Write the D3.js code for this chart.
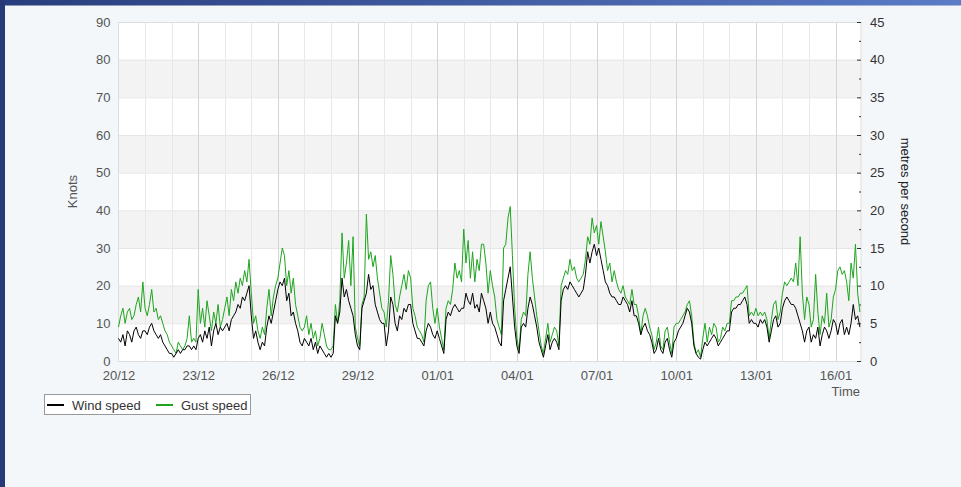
<!DOCTYPE html>
<html>
<head>
<meta charset="utf-8">
<script src="https://cdn.jsdelivr.net/npm/d3@7"></script>
<style>
  body { margin: 0; background: #f3f7fa; }
  svg { display: block; font-family: "Liberation Sans", Arial, sans-serif; }
</style>
</head>
<body>
<svg></svg>
<script>
// readings every 2 hours, starting 20/12 00:00
let startTime = new Date(2023, 11, 20, 0, 0);
let stepHours = 2;

let windSpeed = [
  6, 5, 7, 4, 8, 7, 5, 8, 9, 7, 6, 8,
  8, 7, 9, 10, 8, 7, 6, 7, 5, 4, 3, 2,
  2, 1, 2, 3, 2, 3, 3, 4, 4, 3, 4, 3,
  6, 7, 5, 8, 6, 9, 4, 8, 10, 7, 9, 8,
  9, 10, 8, 11, 12, 13, 15, 14, 17, 16, 18, 20,
  12, 6, 8, 5, 3, 5, 4, 9, 12, 10, 13, 16,
  19, 21, 20, 22, 16, 18, 12, 13, 10, 8, 5, 4,
  6, 5, 4, 6, 3, 5, 2, 4, 3, 2, 1, 2,
  1, 2, 12, 10, 13, 22, 17, 19, 16, 14, 12, 7,
  4, 3, 14, 16, 18, 23, 19, 20, 15, 13, 11, 10,
  10, 4, 8, 17, 15, 10, 8, 12, 11, 14, 13, 15,
  15, 10, 8, 6, 6, 5, 4, 8, 10, 9, 7, 6,
  8, 6, 4, 2, 11, 13, 12, 14, 15, 14, 13, 14,
  14, 18, 16, 15, 18, 14, 15, 13, 18, 16, 14, 10,
  13, 10, 9, 7, 5, 4, 16, 19, 22, 25, 17, 9,
  4, 2, 9, 10, 9, 14, 17, 15, 12, 9, 5, 3,
  1, 4, 7, 3, 5, 6, 5, 3, 16, 19, 20, 19,
  21, 20, 19, 18, 17, 18, 19, 23, 29, 26, 29, 31,
  28, 30, 27, 24, 21, 20, 18, 17, 17, 16, 15, 15,
  17, 16, 15, 13, 16, 12, 12, 10, 7, 9, 10, 8,
  7, 5, 2, 3, 6, 3, 2, 5, 6, 3, 1, 5,
  6, 8, 9, 10, 12, 14, 13, 10, 4, 2, 1, 0.5,
  3, 5, 4, 5, 6, 7, 6, 4, 5, 6, 7, 8,
  8, 13, 14, 14, 15, 15, 16, 17, 15, 10, 11, 10,
  10, 9, 11, 10, 11, 9, 5, 8, 11, 12, 9, 10,
  14, 16, 17, 16, 15, 15, 14, 12, 10, 8, 5, 8,
  9, 5, 7, 6, 9, 4, 7, 9, 8, 6, 8, 11,
  10, 7, 10, 11, 7, 9, 7, 10, 15, 11, 12, 9
];

let gustSpeed = [
  9, 12, 14, 10, 13, 14, 11, 12, 15, 17, 13, 21,
  14, 12, 15, 19, 13, 14, 11, 12, 10, 8, 7, 5,
  4, 3, 2, 5, 4, 3, 4, 6, 12, 5, 6, 5,
  19, 10, 14, 9, 16, 12, 8, 13, 10, 15, 9, 11,
  14, 17, 12, 19, 16, 21, 18, 22, 20, 24, 21, 27,
  18, 10, 12, 8, 6, 9, 7, 14, 19, 12, 17, 20,
  22, 26, 30, 28, 20, 24, 18, 22, 15, 12, 9, 8,
  9, 12, 7, 10, 6, 8, 4, 6, 10, 7, 4, 3,
  3, 4, 15, 10, 16, 34, 22, 26, 32, 20, 33, 9,
  6, 4, 15, 17, 39, 27, 29, 25, 28, 22, 18, 14,
  13, 9, 16, 28, 23, 15, 13, 17, 20, 23, 19, 24,
  22, 14, 12, 9, 8, 7, 5, 16, 20, 21, 14, 10,
  14, 9, 6, 3, 14, 16, 15, 19, 26, 22, 24, 21,
  35, 26, 32, 22, 29, 21, 27, 24, 31, 31, 26, 18,
  24, 20, 17, 11, 9, 7, 30, 31, 38, 41, 28, 14,
  6, 3, 11, 13, 12, 23, 29, 22, 17, 12, 8, 4,
  2, 6, 10, 5, 7, 9, 8, 4, 20, 22, 24, 23,
  27, 24, 25, 22, 21, 22, 23, 27, 33, 31, 38, 34,
  36, 31, 37, 33, 29, 24, 26, 21, 24, 21, 19, 18,
  20, 17, 16, 15, 19, 15, 15, 12, 7, 12, 14, 12,
  9, 7, 3, 5, 9, 4, 3, 8, 9, 5, 2, 9,
  10, 10, 11, 12, 13, 15, 16, 12, 5, 2, 3, 1,
  6, 10, 5, 9, 7, 10, 9, 5, 6, 9, 8, 10,
  10, 16, 16, 17, 17, 18, 18, 19, 20, 12, 13, 12,
  14, 12, 13, 12, 13, 11, 6, 11, 15, 16, 11, 13,
  18, 21, 20, 21, 22, 21, 26, 20, 33, 18, 11, 17,
  15, 9, 11, 23, 13, 7, 12, 10, 18, 9, 11, 17,
  19, 24, 25, 23, 24, 21, 16, 26, 22, 31, 18, 13
];

let knotTicks = [0, 10, 20, 30, 40, 50, 60, 70, 80, 90];
let msTicks = [0, 5, 10, 15, 20, 25, 30, 35, 40, 45];
let seriesNames = ["Wind speed", "Gust speed"];
let seriesColors = ["#000000", "#1ea51e"];

//
let w = 961;
let h = 487;
let plotLeft = 118.5;
let plotRight = 861;
let plotTop = 22;
let plotBottom = 361;

let svg = d3.select("svg").attr("width", w).attr("height", h);

let times = windSpeed.map((v, i) => d3.timeHour.offset(startTime, i * stepHours));
let endTime = new Date(2024, 0, 16, 23, 0);

let xScale = d3.scaleTime().domain([startTime, endTime]).range([plotLeft, plotRight]);
let yScale = d3.scaleLinear().domain([0, 90]).range([plotBottom, plotTop]);
let yScaleMs = d3.scaleLinear().domain([0, 45]).range([plotBottom, plotTop]);

let drawFrame = () => {
  svg.append("rect").attr("width", w).attr("height", h).attr("fill", "#f3f7fa");
  let grad = svg.append("defs").append("linearGradient").attr("id", "topgrad");
  grad.append("stop").attr("offset", "0%").attr("stop-color", "#283d7d");
  grad.append("stop").attr("offset", "100%").attr("stop-color", "#5a7bc6");
  svg.append("rect").attr("x", 0).attr("y", 0).attr("width", w).attr("height", 5.5).attr("fill", "url(#topgrad)");
  svg.append("rect").attr("x", 0).attr("y", 0).attr("width", 5).attr("height", h).attr("fill", "#263a78");
};

let drawGrid = () => {
  svg.append("rect")
    .attr("x", plotLeft).attr("y", plotTop)
    .attr("width", plotRight - plotLeft).attr("height", plotBottom - plotTop)
    .attr("fill", "#ffffff");
  // alternate bands
  let bands = knotTicks.slice(0, -1).filter((d, i) => i % 2 === 1);
  svg.append("g").selectAll("rect").data(bands).enter().append("rect")
    .attr("x", plotLeft).attr("width", plotRight - plotLeft)
    .attr("y", (d) => yScale(d + 10)).attr("height", (d) => yScale(d) - yScale(d + 10))
    .attr("fill", "#f3f3f3");
  svg.append("g").selectAll("line").data(knotTicks).enter().append("line")
    .attr("x1", plotLeft).attr("x2", plotRight)
    .attr("y1", (d) => yScale(d) + 0.5).attr("y2", (d) => yScale(d) + 0.5)
    .attr("stroke", "#e6e6e6");
  let days = d3.timeDay.range(d3.timeDay.offset(startTime, 1), endTime);
  svg.append("g").selectAll("line").data(days).enter().append("line")
    .attr("x1", (d) => Math.round(xScale(d)) + 0.5).attr("x2", (d) => Math.round(xScale(d)) + 0.5)
    .attr("y1", plotTop).attr("y2", plotBottom)
    .attr("stroke", (d, i) => ((i + 1) % 3 === 0 ? "#d4d4d4" : "#e8e8e8"));
  svg.append("rect")
    .attr("x", plotLeft).attr("y", plotTop + 0.5)
    .attr("width", plotRight - plotLeft).attr("height", plotBottom - plotTop)
    .attr("fill", "none").attr("stroke", "#dddddd");
};

let drawAxis = () => {
  let xAxis = d3.axisBottom(xScale)
    .tickValues(d3.timeDay.range(startTime, endTime, 3))
    .tickFormat(d3.timeFormat("%d/%m"))
    .tickSize(0).tickPadding(10);
  let yAxis = d3.axisLeft(yScale).tickValues(knotTicks).tickSize(0).tickPadding(7);
  let yAxisMs = d3.axisRight(yScaleMs).tickValues(msTicks).tickSize(-4).tickPadding(9);
  let yAxisMsMinor = d3.axisRight(yScaleMs)
    .tickValues(msTicks.slice(0, -1).map((d) => d + 2.5))
    .tickSize(-2).tickFormat("");

  let gx = svg.append("g").attr("transform", `translate(0, ${plotBottom})`).call(xAxis);
  let gy = svg.append("g").attr("transform", `translate(${plotLeft - 1}, 0)`).call(yAxis);
  let gr = svg.append("g").attr("transform", `translate(${plotRight}, 0)`).call(yAxisMs);
  let gm = svg.append("g").attr("transform", `translate(${plotRight}, 0)`).call(yAxisMsMinor);
  [gx, gy, gr, gm].forEach((g) => {
    g.select(".domain").remove();
    g.selectAll("text").attr("font-size", 13).attr("fill", "#555").attr("font-family", "Liberation Sans, Arial, sans-serif");
    g.selectAll("line").attr("stroke", "#333");
  });
  gr.selectAll("text").attr("fill", "#333");

  svg.append("text")
    .attr("transform", `translate(77, ${(plotTop + plotBottom) / 2}) rotate(-90)`)
    .attr("text-anchor", "middle").attr("font-size", 13).attr("fill", "#555")
    .text("Knots");
  svg.append("text")
    .attr("transform", `translate(901, ${(plotTop + plotBottom) / 2}) rotate(90)`)
    .attr("text-anchor", "middle").attr("font-size", 13).attr("fill", "#222")
    .text("metres per second");
  svg.append("text")
    .attr("x", plotRight - 1).attr("y", 396)
    .attr("text-anchor", "end").attr("font-size", 13).attr("fill", "#555")
    .text("Time");
};

let drawLines = () => {
  let line = d3.line().x((d, i) => xScale(times[i])).y((d) => yScale(d));
  svg.append("path").datum(gustSpeed)
    .attr("d", line).attr("fill", "none")
    .attr("stroke", seriesColors[1]).attr("stroke-width", 1).attr("stroke-linejoin", "round");
  svg.append("path").datum(windSpeed)
    .attr("d", line).attr("fill", "none")
    .attr("stroke", seriesColors[0]).attr("stroke-width", 1).attr("stroke-linejoin", "round");
};

let drawLegend = () => {
  let lg = svg.append("g");
  lg.append("rect")
    .attr("x", 44.5).attr("y", 394.5).attr("width", 206).attr("height", 20)
    .attr("fill", "#ffffff").attr("stroke", "#999");
  let items = lg.selectAll("g").data(seriesNames).enter().append("g")
    .attr("transform", (d, i) => `translate(${i === 0 ? 47 : 156}, 405)`);
  items.append("line")
    .attr("x1", 0).attr("x2", 17).attr("y1", 0).attr("y2", 0)
    .attr("stroke", (d, i) => seriesColors[i]).attr("stroke-width", 2);
  items.append("text")
    .attr("x", 25).attr("y", 5)
    .attr("font-size", 13).attr("fill", "#333")
    .text((d) => d);
};

drawFrame();
drawGrid();
drawAxis();
drawLines();
drawLegend();
</script>
</body>
</html>
